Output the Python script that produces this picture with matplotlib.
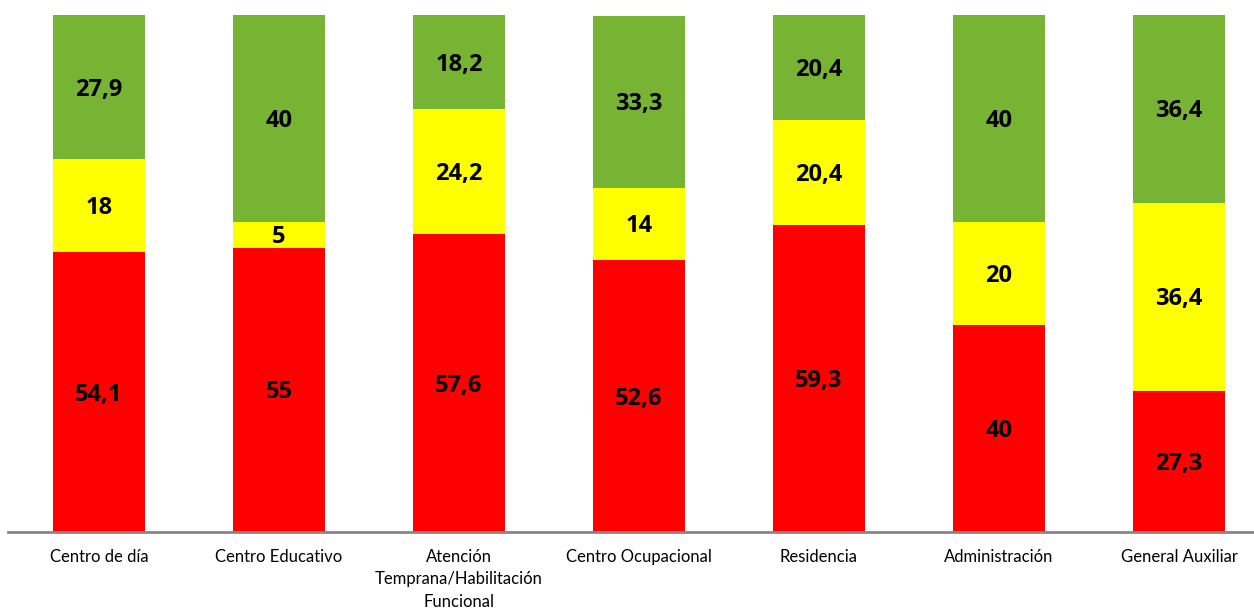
import matplotlib.pyplot as plt
import numpy as np

plt.rcParams['font.family'] = ['Lato', 'DejaVu Sans']

categorias = ["Centro de día", "Centro Educativo",
              "Atención\nTemprana/Habilitación\nFuncional",
              "Centro Ocupacional", "Residencia", "Administración",
              "General Auxiliar"]
rojo = [54.1, 55, 57.6, 52.6, 59.3, 40, 27.3]
amarillo = [18, 5, 24.2, 14, 20.4, 20, 36.4]
verde = [27.9, 40, 18.2, 33.3, 20.4, 40, 36.4]

colores = ["#FF0000", "#FFFF00", "#77B433"]


def fmt(v):
    if float(v).is_integer():
        return str(int(v))
    return str(v).replace(".", ",")


fig = plt.figure(figsize=(12.54, 6.11), dpi=100)
ax = fig.add_axes([8 / 1254, 79 / 611, 1246 / 1254, 517 / 611])

x = np.arange(len(categorias))
ancho = 0.51
base = np.zeros(len(categorias))
for serie, color in zip([rojo, amarillo, verde], colores):
    vals = np.array(serie, dtype=float)
    ax.bar(x, vals, ancho, bottom=base, color=color, linewidth=0)
    for xi, b, v in zip(x, base, vals):
        ax.text(xi, b + v / 2 - 0.5, fmt(v), ha="center", va="center",
                fontsize=17, fontweight="bold", color="black",
                family=["Open Sans", "DejaVu Sans"])
    base += vals

ax.set_xlim(-0.5056, 6.417)
ax.set_ylim(0, 100)
ax.set_yticks([])
ax.set_xticks(x)
ax.set_xticklabels(categorias, fontsize=12, linespacing=1.5)
ax.tick_params(axis="x", length=0, pad=12)
for s in ["top", "left", "right"]:
    ax.spines[s].set_visible(False)
ax.spines["bottom"].set_color("#868686")
ax.spines["bottom"].set_linewidth(2)

fig.savefig("out.png", dpi=100)
